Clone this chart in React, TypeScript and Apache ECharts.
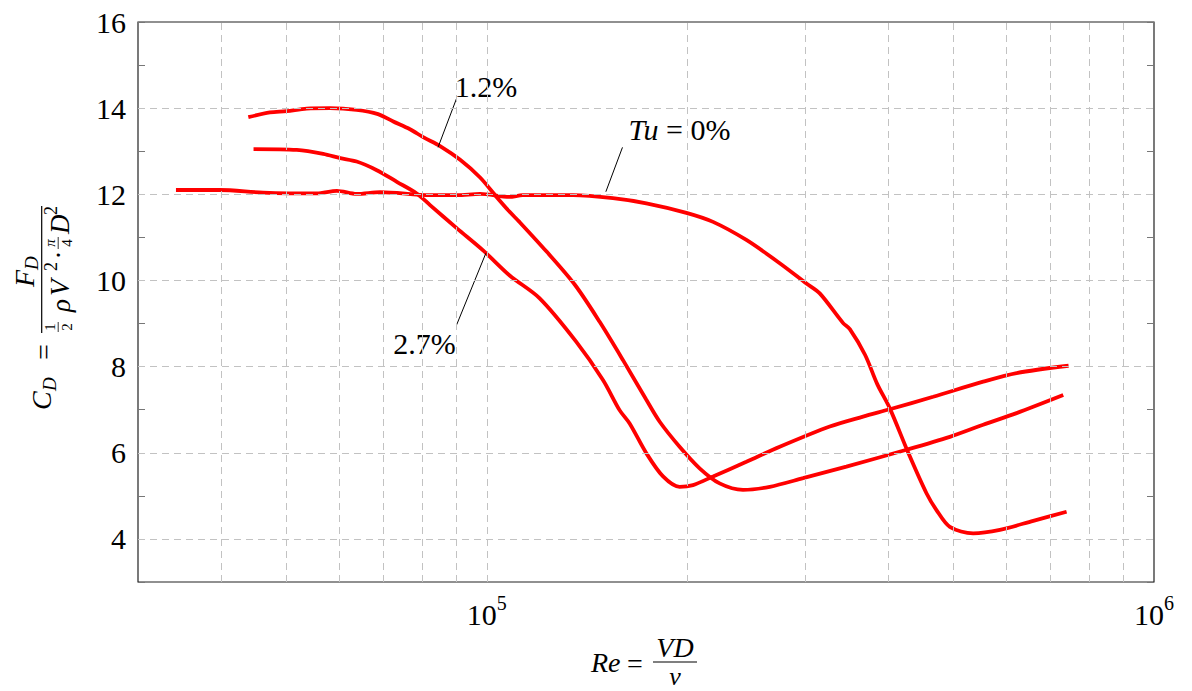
import React, { useEffect, useRef } from "react";
import * as echarts from "echarts";

// ---------- data (Re, C_D) ----------
const reTu0 = [34200, 39800, 46200, 55600, 59600, 63800, 69200, 82200, 90200, 97700, 108100, 113200, 134600, 154500, 173400, 199100, 218300, 244900, 274800, 301300, 315500, 342000, 350000, 369000, 384600, 401800, 428500, 456000, 472000, 494300, 535800, 587500, 659200, 739600];
const cdTu0 = [12.10, 12.10, 12.04, 12.02, 12.08, 12.01, 12.05, 11.98, 11.98, 12.01, 11.94, 11.98, 11.98, 11.91, 11.79, 11.57, 11.36, 10.94, 10.40, 9.93, 9.70, 9.01, 8.87, 8.27, 7.60, 7.03, 5.99, 5.06, 4.67, 4.28, 4.13, 4.21, 4.42, 4.63];

const re12 = [43900, 47300, 50100, 53700, 58200, 63800, 68700, 72400, 76700, 80400, 85100, 91200, 97700, 103400, 108100, 111900, 122900, 135500, 147600, 160000, 173400, 181600, 194500, 208400, 223300, 242100, 265500, 297800, 345900, 425600, 494300, 554600, 622300, 731100];
const cd12 = [13.79, 13.90, 13.93, 13.99, 14.00, 13.96, 13.86, 13.69, 13.51, 13.32, 13.12, 12.80, 12.39, 11.94, 11.60, 11.36, 10.67, 9.90, 9.04, 8.15, 7.23, 6.72, 6.14, 5.64, 5.29, 5.14, 5.21, 5.41, 5.68, 6.07, 6.37, 6.65, 6.92, 7.34];

const re27 = [44700, 51900, 56850, 60300, 63800, 68400, 73300, 78500, 82200, 90200, 98700, 108300, 119900, 136100, 149300, 158100, 163700, 173400, 183700, 194500, 203700, 218300, 244900, 274800, 326600, 366400, 401800, 466700, 554600, 622300, 744700];
const cd27 = [13.05, 13.03, 12.94, 12.84, 12.76, 12.56, 12.29, 12.02, 11.75, 11.21, 10.70, 10.11, 9.59, 8.58, 7.69, 6.99, 6.68, 5.99, 5.45, 5.21, 5.25, 5.45, 5.79, 6.14, 6.61, 6.84, 7.01, 7.30, 7.65, 7.85, 8.02];

// annotation leader lines: [curve point, label end]
const leadRe12 = [84500, 90100];
const leadCd12 = [13.09, 14.23];
const leadReTu0 = [150800, 159700];
const leadCdTu0 = [12.06, 13.09];
const leadRe27 = [99650, 90100];
const leadCd27 = [10.63, 8.97];

// axis settings
const xMin = 30000;
const xMax = 1000000;
const xGridRe = [40000, 50000, 60000, 70000, 80000, 90000, 100000, 200000, 300000, 400000, 500000, 600000, 700000, 800000, 900000];
const xLabelExp = [5, 6];
const yMin = 3;
const yMax = 16;
const yGrid = [4, 6, 8, 10, 12, 14];

const FONT = '"Liberation Serif", "DejaVu Serif", serif';
const RED = "#ff0000";

const pairs = (xs: number[], ys: number[]) => xs.map((x, i) => [x, ys[i]]);

function txt(text: string, x: number, y: number, size: number, italic: boolean, align = "left", vAlign = "middle") {
  return {
    type: "text",
    x,
    y,
    silent: true,
    style: {
      text,
      fontSize: size,
      fontFamily: FONT,
      fontStyle: italic ? "italic" : "normal",
      fill: "#000",
      align,
      verticalAlign: vAlign,
      textAlign: align,
      textVerticalAlign: vAlign,
    },
  };
}

function hline(x1: number, x2: number, y: number, w = 1.2) {
  return {
    type: "line",
    silent: true,
    shape: { x1, y1: y, x2, y2: y },
    style: { stroke: "#000", lineWidth: w },
  };
}

export default function App() {
  const ref = useRef<HTMLDivElement>(null);

  useEffect(() => {
    const chart = echarts.init(ref.current!, null, { renderer: "svg" });
    const curve = (name: string, data: number[][]) => ({
      name,
      type: "line",
      xAxisIndex: 0,
      yAxisIndex: 0,
      data,
      smooth: 0.3,
      symbol: "none",
      z: 3,
      lineStyle: { color: RED, width: 3.8 },
      emphasis: { disabled: true },
    });
    const leader = (data: number[][]) => ({
      type: "line",
      xAxisIndex: 0,
      yAxisIndex: 0,
      data,
      symbol: "none",
      z: 4,
      lineStyle: { color: "#000", width: 1 },
      emphasis: { disabled: true },
    });

    const option: any = {
      animation: false,
      backgroundColor: "#fff",
      grid: {
        left: 138,
        top: 22,
        width: 1016,
        height: 560,
        show: true,
        borderColor: "#222",
        borderWidth: 1.2,
        backgroundColor: "transparent",
      },
      xAxis: [
        {
          type: "log",
          logBase: 10,
          min: xMin,
          max: xMax,
          position: "bottom",
          axisLine: { show: false },
          axisTick: { show: false },
          axisLabel: { show: false },
          splitLine: { show: false },
        },
        {
          type: "value",
          min: Math.log10(xMin),
          max: Math.log10(xMax),
          position: "bottom",
          axisLine: { show: false },
          axisTick: {
            show: true,
            inside: true,
            length: 5,
            customValues: xGridRe.map((v) => Math.log10(v)),
            lineStyle: { color: "#777", width: 1 },
          },
          axisLabel: {
            show: true,
            margin: 11,
            customValues: xLabelExp,
            formatter: (v: number) => `{b|10}{s|${Math.round(v)}}`,
            rich: {
              b: { fontSize: 30, fontFamily: FONT, color: "#000", lineHeight: 36, verticalAlign: "bottom" },
              s: { fontSize: 20, fontFamily: FONT, color: "#000", lineHeight: 20, verticalAlign: "top" },
            },
          },
          splitLine: { show: false },
        },
      ],
      yAxis: [
        {
          type: "value",
          min: yMin,
          max: yMax,
          interval: 1,
          position: "left",
          axisLine: { show: false },
          axisTick: { show: true, inside: true, length: 7, lineStyle: { color: "#777", width: 1 } },
          axisLabel: {
            margin: 12,
            fontSize: 30,
            fontFamily: FONT,
            color: "#000",
            formatter: (v: number) => (v % 2 === 0 ? String(v) : ""),
          },
          splitLine: { show: false },
        },
        {
          type: "value",
          min: yMin,
          max: yMax,
          interval: 1,
          position: "right",
          axisLine: { show: false },
          axisTick: { show: true, inside: true, length: 7, lineStyle: { color: "#777", width: 1 } },
          axisLabel: { show: false },
          splitLine: { show: false },
        },
      ],
      series: [
        curve("Tu = 0%", pairs(reTu0, cdTu0)),
        curve("1.2%", pairs(re12, cd12)),
        curve("2.7%", pairs(re27, cd27)),
        leader(pairs(leadRe12, leadCd12)),
        leader(pairs(leadReTu0, leadCdTu0)),
        leader(pairs(leadRe27, leadCd27)),
        {
          type: "line",
          xAxisIndex: 0,
          yAxisIndex: 0,
          data: [],
          z: 1,
          silent: true,
          markLine: {
            silent: true,
            symbol: ["none", "none"],
            label: { show: false },
            emphasis: { disabled: true },
            animation: false,
            lineStyle: { type: [7, 5], color: "#c2c2c2", width: 1 },
            data: [
              ...xGridRe.map((v) => ({ xAxis: v })),
              ...yGrid.map((v) => ({ yAxis: v })),
            ],
          },
        },
      ],
    };
    chart.setOption(option);

    const px = (re: number, cd: number) => chart.convertToPixel({ seriesIndex: 0 }, [re, cd]) as number[];
    const p12 = px(leadRe12[1], leadCd12[1]);
    const pTu = px(leadReTu0[1], leadCdTu0[1]);
    const p27 = px(leadRe27[1], leadCd27[1]);

    const graphic: any[] = [
      // annotations
      txt("1.2%", p12[0] - 2, p12[1] - 12, 30, false, "left", "middle"),
      {
        type: "text",
        x: pTu[0] + 6,
        y: pTu[1] - 18,
        silent: true,
        style: {
          text: "{i|Tu}{n| = 0%}",
          fill: "#000",
          align: "left",
          verticalAlign: "middle",
          textAlign: "left",
          textVerticalAlign: "middle",
          rich: {
            i: { fontSize: 30, fontFamily: FONT, fontStyle: "italic", fill: "#000" },
            n: { fontSize: 30, fontFamily: FONT, fill: "#000" },
          },
        },
      },
      txt("2.7%", p27[0] - 1, p27[1] + 19, 30, false, "right", "middle"),
      // x-axis title: Re = VD / nu
      txt("Re", 591, 662, 28, true),
      txt("=", 627, 663, 28, false),
      hline(653, 697, 662),
      txt("VD", 675, 647, 28, true, "center"),
      txt("ν", 675, 676, 26, true, "center"),
      // y-axis title (rotated)
      {
        type: "group",
        x: 41.7,
        y: 333,
        rotation: Math.PI / 2,
        silent: true,
        children: [
          hline(0, 127, 0),
          txt("F", 46, -17, 28, true),
          txt("D", 63, -10, 19, true),
          txt("1", 6, 8, 15, false, "center"),
          hline(1, 11, 16.5, 0.8),
          txt("2", 6, 25, 15, false, "center"),
          txt("ρ", 21, 19, 27, true),
          txt("V", 37, 18, 27, true),
          txt("2", 62, 9, 18, false),
          txt("·", 78, 17, 27, false, "center"),
          txt("π", 90, 8, 15, true, "center"),
          hline(84, 96, 16.5, 0.8),
          txt("4", 90, 25, 15, false, "center"),
          txt("D", 99, 18, 27, true),
          txt("2", 118, 9, 18, false),
          txt("C", -77, 0, 28, true),
          txt("D", -58, 8, 19, true),
          txt("=", -27, 2, 28, false),
        ],
      },
    ];
    chart.setOption({ graphic });

    return () => chart.dispose();
  }, []);

  return (
    <div
      ref={ref}
      style={{ position: "absolute", left: 0, top: 0, width: 1192, height: 691, background: "#fff" }}
    />
  );
}
